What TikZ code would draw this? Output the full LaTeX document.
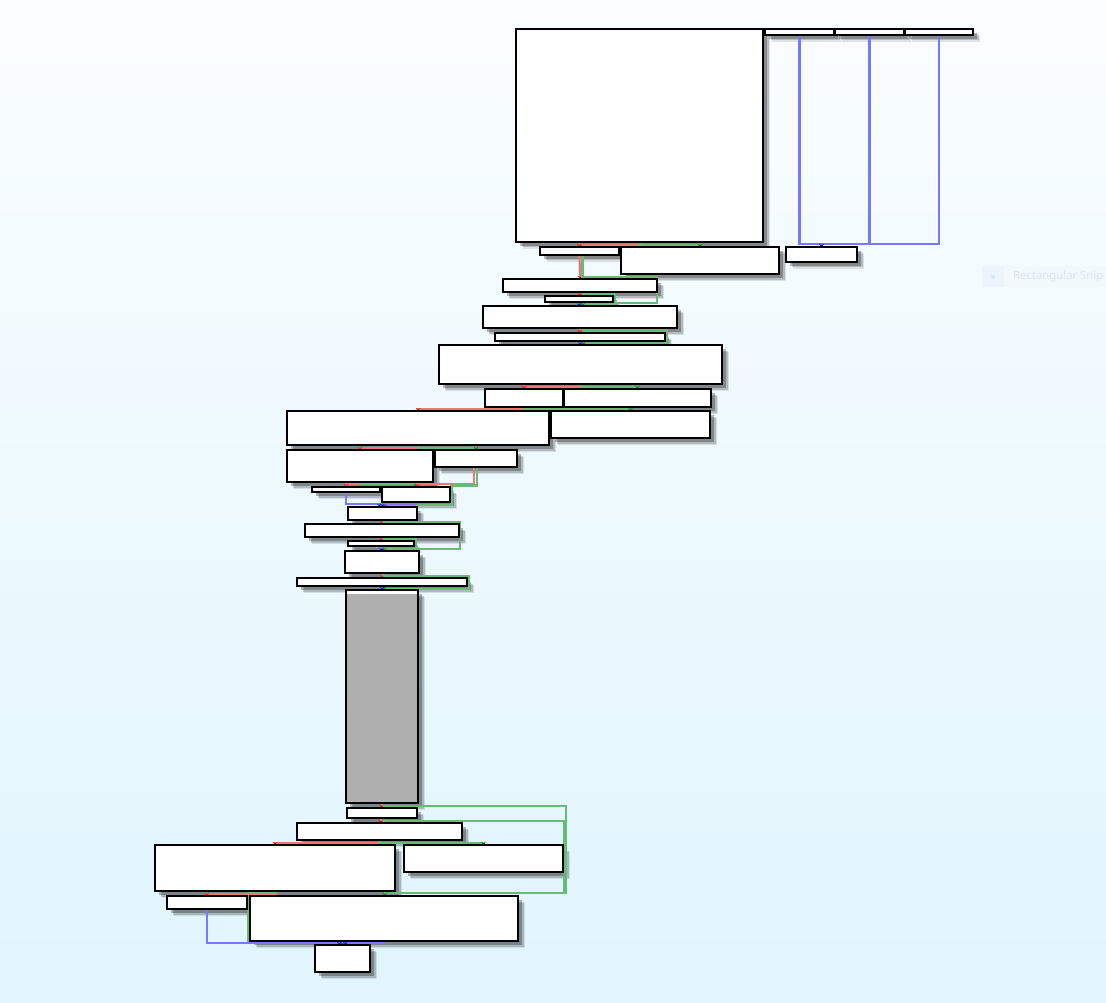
\documentclass[tikz,border=0pt]{standalone}
\usepackage{fontspec}
\newfontfamily\snipfont{Noto Sans}
\usetikzlibrary{arrows.meta}
\pgfdeclarelayer{bg}
\pgfdeclarelayer{shadow}
\pgfdeclarelayer{edges}
\pgfsetlayers{bg,shadow,edges,main}
\definecolor{bgtop}{RGB}{250,253,255}
\definecolor{bgbot}{RGB}{224,245,253}
\definecolor{edgered}{RGB}{242,118,118}
\definecolor{edgegreen}{RGB}{105,185,120}
\definecolor{edgeblue}{RGB}{120,120,255}
\definecolor{tipred}{RGB}{230,20,20}
\definecolor{tipgreen}{RGB}{20,120,30}
\definecolor{tipblue}{RGB}{20,20,230}
\definecolor{graybox}{RGB}{175,175,175}
\definecolor{snipsq}{RGB}{236,245,252}
\definecolor{snipband}{RGB}{242,249,253}
\definecolor{sniptext}{RGB}{218,230,237}
\tikzset{
  box/.style={draw=black, line width=1.6pt, fill=white, inner sep=0pt, outer sep=0pt},
  er/.style={draw=edgered, line width=2.2pt, -{Stealth[length=3pt,width=4.5pt,color=tipred]}},
  eg/.style={draw=edgegreen, line width=2.2pt, -{Stealth[length=3pt,width=4.5pt,color=tipgreen]}},
  eb/.style={draw=edgeblue, line width=2.2pt, -{Stealth[length=3pt,width=4.5pt,color=tipblue]}},
}
\newcommand\bx[6][]{\node[box,minimum width={(#5-#3)*1pt},minimum height={(#6-#4)*1pt},anchor=north west,#1] (#2) at (#3,#4) {};
\begin{pgfonlayer}{shadow}
\foreach \o/\a in {7/0.1,5.5/0.17,4/0.27} {\fill[black,opacity=\a] ([shift={(\o pt,-\o pt)}]#2.north west) rectangle ([shift={(\o pt,-\o pt)}]#2.south east);}
\end{pgfonlayer}}
\begin{document}
\begin{tikzpicture}[x=1pt,y=-1pt]
\useasboundingbox (0,0) rectangle (1106,1003);
\begin{pgfonlayer}{bg}
\shade[top color=bgtop, bottom color=bgbot] (0,0) rectangle (1106,1003);
\end{pgfonlayer}
% faint snip tool
\node[fill=snipband, inner sep=0pt, minimum width=102pt, minimum height=21pt, anchor=north west] (snipband) at (1004,266) {};
\node[fill=snipsq, inner sep=0pt, minimum width=22pt, minimum height=21pt, anchor=north west] (snipsq) at (982,266) {};
\node[circle, fill=sniptext, inner sep=0pt, minimum size=4pt] (snipdot) at (snipsq.center) {};
\node[anchor=west, text=sniptext, font=\snipfont\fontsize{11.3}{13}\selectfont, inner sep=0pt] (sniplabel) at (1013,276.5) {Rectangular Snip};
% boxes
\bx{N1}{516}{29}{763}{242}
\bx{T1}{765}{29}{834}{35}
\bx{T2}{835}{29}{904}{35}
\bx{T3}{905}{29}{973}{35}
\bx{R1}{786}{247}{857}{262}
\bx{N2}{540}{247}{619}{255}
\bx{N3}{621}{247}{779}{274}
\bx{N4}{503}{279}{657}{292}
\bx{N5}{545}{296}{613}{302}
\bx{N6}{483}{306}{677}{328}
\bx{N7}{495}{333}{665}{341}
\bx{N8}{439}{345}{722}{384}
\bx{N9}{485}{389}{563}{407}
\bx{N10}{564}{389}{711}{407}
\bx{N11}{287}{411}{549}{445}
\bx{N12}{551}{411}{710}{438}
\bx{N13}{287}{450}{433}{482}
\bx{N14}{435}{450}{517}{467}
\bx{N15}{312}{487}{380}{492}
\bx{N16}{382}{487}{450}{502}
\bx{N17}{348}{507}{417}{520}
\bx{N18}{305}{524}{459}{537}
\bx{N19}{348}{541}{414}{546}
\bx{N20}{345}{551}{419}{573}
\bx{N21}{297}{578}{467}{586}
\bx[fill=graybox]{G}{346}{590}{418}{803}
\fill[white] ([shift={(0.8pt,-0.8pt)}]G.north west) rectangle ([shift={(-0.8pt,-4pt)}]G.north east);
\draw[line width=1.6pt] (G.north west) rectangle (G.south east);
\bx{N22}{347}{808}{417}{818}
\bx{N23}{297}{823}{462}{840}
\bx{N24}{155}{845}{395}{891}
\bx{N26}{404}{845}{563}{872}
\bx{N27}{167}{896}{247}{909}
\bx{N25}{250}{896}{518}{941}
\bx{N28}{315}{945}{370}{972}
% edges
\begin{pgfonlayer}{edges}
\draw[eb] (T1.south) |- (815,244) -| (R1.north);
\draw[eb] (T2.south) |- (830,244) -| (R1.north);
\draw[eb] (T3.south) |- (830,244) -| (R1.north);
\draw[er] (N1.south) -- ++(0,3) -| (N2.north);
\draw[eg] (N1.south) -- ++(0,3) -| (N3.north);
\draw[er] (N2.south) -- (N4.north);
\draw[eg] ([xshift=3pt]N2.south) |- (657,277) |- (590,303) -| ([xshift=3pt]N6.north);
\draw[er] (N4.south) -- (N5.north);
\draw[eg] ([xshift=3pt]N4.south) |- (614.5,294) |- (590,304) -| ([xshift=3pt]N6.north);
\draw[eb] (N5.south) -- (N6.north);
\draw[er] (N6.south) -- (N7.north);
\draw[eg] ([xshift=3pt]N6.south) |- (666.5,330.5) |- (590,343) -| ([xshift=3pt]N8.north);
\draw[eb] (N7.south) -- (N8.north);
\draw[er] (N8.south) -- ++(0,3) -| (N9.north);
\draw[eg] (N8.south) -- ++(0,3) -| (N10.north);
\draw[er] (N9.south) -- ++(0,2) -| (N11.north);
\draw[eg] (N9.south) -- ++(0,2) -| (N12.north);
\draw[er] (N11.south) -- ++(0,3) -| (N13.north);
\draw[eg] (N11.south) -- ++(0,3) -| (N14.north);
\draw[er] (N13.south) -- ++(0,2) -| (N15.north);
\draw[eg] (N13.south) -- ++(0,2) -| (N16.north);
\draw[er] ([xshift=-2pt]N14.south) |- (430,484) -| ([xshift=1pt]N16.north);
\draw[eg] ([xshift=1pt]N14.south) |- (451.5,485.5) |- (400,505) -| ([xshift=3pt]N17.north);
\draw[eb] (N15.south) |- (370,504) -| ([xshift=-3pt]N17.north);
\draw[eb] (N16.south) |- (390,504) -| (N17.north);
\draw[er] (N17.south) -- (N18.north);
\draw[eg] ([xshift=2pt]N17.south) |- (460,522) |- (400,549) -| ([xshift=2pt]N20.north);
\draw[er] (N18.south) -- (N19.north);
\draw[eg] ([xshift=2pt]N18.south) |- (415.5,539) |- (400,549) -| ([xshift=2pt]N20.north);
\draw[eb] (N19.south) -- (N20.north);
\draw[er] (N20.south) -- (N21.north);
\draw[eg] ([xshift=2pt]N20.south) |- (468.5,576) |- (400,589) -| ([xshift=2pt]G.north);
\draw[eb] (N21.south) -- (G.north);
\draw[er] (G.south) -- (N22.north);
\draw[eg] ([xshift=2pt]G.south) |- (566,806) |- (400,893) -| ([xshift=1pt]N25.north);
\draw[er] (N22.south) -- (N23.north);
\draw[eg] ([xshift=2pt]N22.south) |- (564,821) |- (400,893) -| ([xshift=1pt]N25.north);
\draw[er] (N23.south) -- ++(0,3) -| (N24.north);
\draw[eg] (N23.south) -- ++(0,3) -| (N26.north);
\draw[er] (N24.south) -- ++(0,3) -| (N27.north);
\draw[eg] ([xshift=1pt]N24.south) |- (248,893) |- (330,942) -| (N28.north);
\draw[eb] (N27.south) |- (335,943) -| ([xshift=-3pt]N28.north);
\draw[eb] (N25.south) |- (350,943) -| ([xshift=3pt]N28.north);
\end{pgfonlayer}
\end{tikzpicture}
\end{document}
